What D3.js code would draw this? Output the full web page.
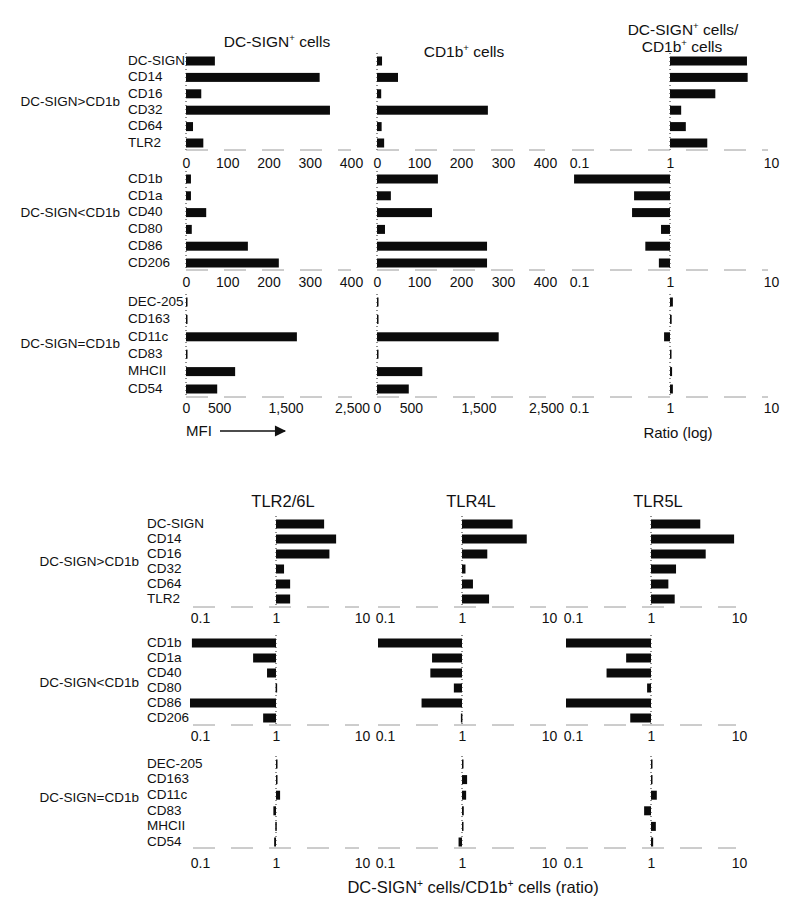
<!DOCTYPE html>
<html>
<head>
<meta charset="utf-8">
<script src="https://cdnjs.cloudflare.com/ajax/libs/d3/7.8.5/d3.min.js"></script>
<style>
  html, body { margin: 0; padding: 0; background: #fff; }
  svg { display: block; }
  text { font-family: "Liberation Sans", Arial, sans-serif; fill: #111; }
</style>
</head>
<body>
<svg id="chart" width="800" height="918"></svg>
<script>
// ---------------- DATA ----------------
const groupLabels = ["DC-SIGN>CD1b", "DC-SIGN<CD1b", "DC-SIGN=CD1b"];
const markersA = ["DC-SIGN", "CD14", "CD16", "CD32", "CD64", "TLR2"];
const markersB = ["CD1b", "CD1a", "CD40", "CD80", "CD86", "CD206"];
const markersC = ["DEC-205", "CD163", "CD11c", "CD83", "MHCII", "CD54"];

const mfiTicksLow = [0, 100, 200, 300, 400];
const mfiTicksHigh = [0, 500, 1500, 2500];
const ratioTicks = [0.1, 1, 10];

const topTitles = ["DC-SIGN+ cells", "CD1b+ cells", "DC-SIGN+ cells/ CD1b+ cells"];
const bottomTitles = ["TLR2/6L", "TLR4L", "TLR5L"];

// Top: MFI of DC-SIGN+ cells
const mfiDCSIGN_A = [70, 324, 37, 349, 17, 42];
const mfiDCSIGN_B = [12, 12, 49, 14, 150, 225];
const mfiDCSIGN_C = [15, 10, 1670, 10, 740, 470];
// Top: MFI of CD1b+ cells
const mfiCD1b_A = [12, 50, 10, 264, 11, 17];
const mfiCD1b_B = [145, 33, 131, 19, 262, 262];
const mfiCD1b_C = [15, 10, 1800, 10, 670, 470];
// Top: ratio DC-SIGN+/CD1b+
const ratio_A = [6.1, 6.2, 2.9, 1.3, 1.45, 2.4];
const ratio_B = [0.105, 0.43, 0.41, 0.81, 0.56, 0.77];
const ratio_C = [1.07, 1.04, 0.87, 1.03, 1.05, 1.07];

// Bottom: ratios after TLR ligand stimulation
const tlr26_A = [3.8, 5.3, 4.4, 1.25, 1.48, 1.48];
const tlr26_B = [0.097, 0.53, 0.78, 0.99, 0.092, 0.7];
const tlr26_C = [1.01, 1.0, 1.12, 0.93, 0.98, 0.95];
const tlr4_A = [4.0, 5.9, 2.0, 1.1, 1.35, 2.1];
const tlr4_B = [0.1, 0.44, 0.42, 0.8, 0.33, 0.97];
const tlr4_C = [1.03, 1.15, 1.12, 1.05, 1.01, 0.91];
const tlr5_A = [3.8, 9.5, 4.4, 1.97, 1.6, 1.9];
const tlr5_B = [0.1, 0.51, 0.3, 0.9, 0.1, 0.57];
const tlr5_C = [1.0, 1.0, 1.17, 0.83, 1.14, 1.06];

// ---------------- LAYOUT ----------------
const svg = d3.select("#chart");
svg.append("rect").attr("width", 800).attr("height", 918).attr("fill", "#fff");

const markerSets = [markersA, markersB, markersC];
const BAR_H = 9;
const FS_LABEL = 13.5, FS_TICK = 14;

const fmtComma = d3.format(",");
const fmtRatio = d => String(d);

function addSupText(sel, str) {
  // renders "+" following a word as superscript
  const parts = str.split("+");
  parts.forEach((p, i) => {
    const t = sel.append("tspan").text(p);
    if (i > 0) t.attr("dy", 6);
    if (i < parts.length - 1) {
      sel.append("tspan").attr("font-size", "0.62em").attr("dy", -6).text("+");
    }
  });
}

function drawPanel(cfg) {
  const g = svg.append("g");
  const y = d3.scalePoint().domain(cfg.cats).range(cfg.rows);
  const x = cfg.scale;
  const base = cfg.log ? x(1) : x(0);

  // bars
  g.selectAll("rect.bar").data(cfg.cats.map((c, i) => ({c, v: cfg.values[i]})))
    .join("rect").attr("class", "bar")
    .attr("x", d => Math.min(base, x(d.v)))
    .attr("width", d => Math.max(1.5, Math.abs(x(d.v) - base)))
    .attr("y", d => y(d.c) - BAR_H / 2 + 1)
    .attr("height", BAR_H)
    .attr("fill", "#0b0b0b");

  // dotted baseline
  g.append("line")
    .attr("x1", base).attr("x2", base)
    .attr("y1", cfg.rows[0] - 7).attr("y2", cfg.axisY)
    .attr("stroke", "#222").attr("stroke-width", 1)
    .attr("stroke-dasharray", "1,3");

  // faint axis line
  const [r0, r1] = x.range();
  g.append("line")
    .attr("x1", r0).attr("x2", r1)
    .attr("y1", cfg.axisY).attr("y2", cfg.axisY)
    .attr("stroke", "#9a9a9a").attr("stroke-width", 1)
    .attr("stroke-dasharray", "22,16");

  // tick labels through axis
  const ax = d3.axisBottom(x).tickValues(cfg.ticks).tickSize(0).tickPadding(0)
    .tickFormat(cfg.fmt);
  const axG = g.append("g").attr("transform", `translate(0,${cfg.tickY})`).call(ax);
  axG.select(".domain").remove();
  axG.selectAll("text")
    .attr("font-size", FS_TICK)
    .attr("font-family", "Liberation Sans, Arial, sans-serif")
    .attr("fill", "#111")
    .attr("dy", "0.35em")
    .attr("y", 0)
    .attr("dx", d => (cfg.log && d === 0.1) ? 7 : (cfg.log && d === 10 ? 3 : 0));
}

function drawCategoryLabels(cats, rows, x, groupLabel, groupX, groupY) {
  const y = d3.scalePoint().domain(cats).range(rows);
  svg.append("g").selectAll("text").data(cats).join("text")
    .attr("x", x).attr("y", d => y(d))
    .attr("dy", "0.35em")
    .attr("font-size", FS_LABEL)
    .text(d => d);
  svg.append("text")
    .attr("x", groupX).attr("y", groupY).attr("dy", "0.35em")
    .attr("text-anchor", "end")
    .attr("font-size", FS_LABEL)
    .text(groupLabel);
}

// ---------------- TOP SECTION ----------------
const topRows = [[60, 142], [178, 262], [301, 388]];
const topAxisY = [150, 270, 397];
const topTickY = [163, 282, 408];
const topGroupY = [101, 212, 343];

const topValues = [
  [mfiDCSIGN_A, mfiCD1b_A, ratio_A],
  [mfiDCSIGN_B, mfiCD1b_B, ratio_B],
  [mfiDCSIGN_C, mfiCD1b_C, ratio_C]
];

for (let gi = 0; gi < 3; gi++) {
  drawCategoryLabels(markerSets[gi], topRows[gi], 128, groupLabels[gi], 120, topGroupY[gi]);
  const high = gi === 2;
  const s1 = d3.scaleLinear().domain(high ? [0, 2500] : [0, 400]).range(high ? [186, 352] : [186, 351]);
  const s2 = d3.scaleLinear().domain(high ? [0, 2500] : [0, 400]).range(high ? [377, 546] : [377, 545]);
  const s3 = d3.scaleLog().domain([0.1, 10]).range([572, 768]);
  const ticks = high ? mfiTicksHigh : mfiTicksLow;
  drawPanel({scale: s1, log: false, cats: markerSets[gi], values: topValues[gi][0],
    rows: topRows[gi], axisY: topAxisY[gi], tickY: topTickY[gi], ticks, fmt: fmtComma});
  drawPanel({scale: s2, log: false, cats: markerSets[gi], values: topValues[gi][1],
    rows: topRows[gi], axisY: topAxisY[gi], tickY: topTickY[gi], ticks, fmt: fmtComma});
  drawPanel({scale: s3, log: true, cats: markerSets[gi], values: topValues[gi][2],
    rows: topRows[gi], axisY: topAxisY[gi], tickY: topTickY[gi], ticks: ratioTicks, fmt: fmtRatio});
}

// top titles
addSupText(svg.append("text").attr("x", 277).attr("y", 47).attr("text-anchor", "middle")
  .attr("font-size", 15.5), topTitles[0]);
addSupText(svg.append("text").attr("x", 464).attr("y", 57).attr("text-anchor", "middle")
  .attr("font-size", 15.5), topTitles[1]);
{
  const [l1, l2] = topTitles[2].split("/ ");
  addSupText(svg.append("text").attr("x", 683).attr("y", 35).attr("text-anchor", "middle")
    .attr("font-size", 15.5), l1 + "/");
  addSupText(svg.append("text").attr("x", 682).attr("y", 52).attr("text-anchor", "middle")
    .attr("font-size", 15.5), l2);
}

// MFI arrow label
svg.append("text").attr("x", 186).attr("y", 431).attr("dy", "0.35em")
  .attr("font-size", 15).text("MFI");
svg.append("defs").append("marker")
  .attr("id", "arrowhead").attr("viewBox", "0 0 10 10")
  .attr("refX", 9).attr("refY", 5).attr("markerWidth", 9).attr("markerHeight", 7)
  .attr("orient", "auto-start-reverse")
  .append("path").attr("d", "M0,0 L10,5 L0,10 z").attr("fill", "#111");
svg.append("line").attr("x1", 220).attr("x2", 285).attr("y1", 431).attr("y2", 431)
  .attr("stroke", "#111").attr("stroke-width", 1.6).attr("marker-end", "url(#arrowhead)");

svg.append("text").attr("x", 678).attr("y", 433).attr("dy", "0.35em")
  .attr("text-anchor", "middle").attr("font-size", 15).text("Ratio (log)");

// ---------------- BOTTOM SECTION ----------------
const botRows = [[523, 598], [642, 717], [763, 841]];
const botAxisY = [607, 725, 848];
const botTickY = [618, 736, 863];
const botGroupY = [561, 682, 797];
const botRanges = [[193, 359], [378, 546], [566, 736]];

const botValues = [
  [tlr26_A, tlr4_A, tlr5_A],
  [tlr26_B, tlr4_B, tlr5_B],
  [tlr26_C, tlr4_C, tlr5_C]
];

for (let gi = 0; gi < 3; gi++) {
  drawCategoryLabels(markerSets[gi], botRows[gi], 147, groupLabels[gi], 139, botGroupY[gi]);
  for (let pi = 0; pi < 3; pi++) {
    const s = d3.scaleLog().domain([0.1, 10]).range(botRanges[pi]);
    drawPanel({scale: s, log: true, cats: markerSets[gi], values: botValues[gi][pi],
      rows: botRows[gi], axisY: botAxisY[gi], tickY: botTickY[gi], ticks: ratioTicks, fmt: fmtRatio});
  }
}

const botTitleX = [283, 471, 658];
bottomTitles.forEach((t, i) => {
  svg.append("text").attr("x", botTitleX[i]).attr("y", 501).attr("dy", "0.35em")
    .attr("text-anchor", "middle").attr("font-size", 16.5).text(t);
});

addSupText(svg.append("text").attr("x", 473).attr("y", 893).attr("text-anchor", "middle")
  .attr("font-size", 16.5), "DC-SIGN+ cells/CD1b+ cells (ratio)");
</script>
</body>
</html>
